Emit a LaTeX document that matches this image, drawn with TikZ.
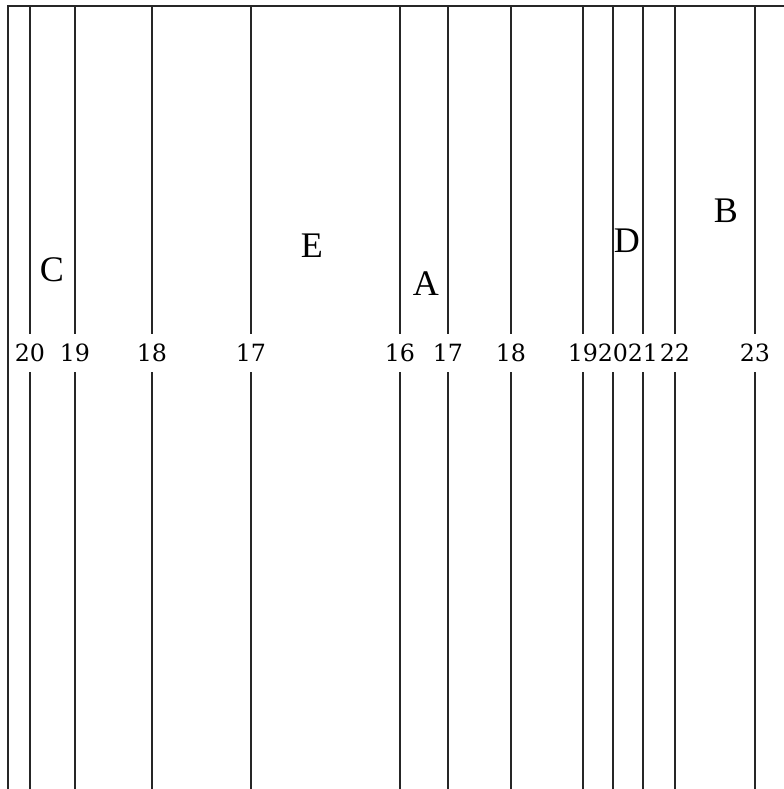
\documentclass[tikz,border=0pt]{standalone}
\usepackage{fontspec}
\setmainfont{Liberation Serif}
\newfontfamily\numfont{DejaVu Serif}
\usetikzlibrary{positioning}

\begin{document}
\begin{tikzpicture}[
        x=0.02cm, y=-0.02cm,
        rule/.style={line width=1.1pt, draw=black!85},
        stand/.style={font=\numfont\fontsize{13.5}{14}\selectfont, inner sep=0pt, minimum height=0.76cm},
        zone/.style={font=\fontsize{20.5}{21}\selectfont, inner sep=0pt}
    ]
    \useasboundingbox (0,0) rectangle (784,789);

    % frame
    \draw[rule] (784,6) -- (8,6) -- (8,789);

    % scale lines with their numbers
    \foreach \px/\val [count=\i] in {30/20, 75/19, 152/18, 251/17, 400/16, 448/17,
                                      511/18, 583/19, 613/20, 643/21, 675/22, 755/23} {
        \coordinate (top\i) at (\px,6);
        \coordinate (bot\i) at (\px,789);
        \node[stand] (num\i) at (\px,353) {\val};
        \draw[rule] (top\i) -- (num\i.north);
        \draw[rule] (num\i.south) -- (bot\i);
    }

    % zones
    \node[zone] (zC) at (52,270) {C};
    \node[zone] (zE) at (312,246) {E};
    \node[zone] (zA) at (426,284) {A};
    \node[zone] (zD) at (627,241) {D};
    \node[zone] (zB) at (726,211) {B};

\end{tikzpicture}
\end{document}
